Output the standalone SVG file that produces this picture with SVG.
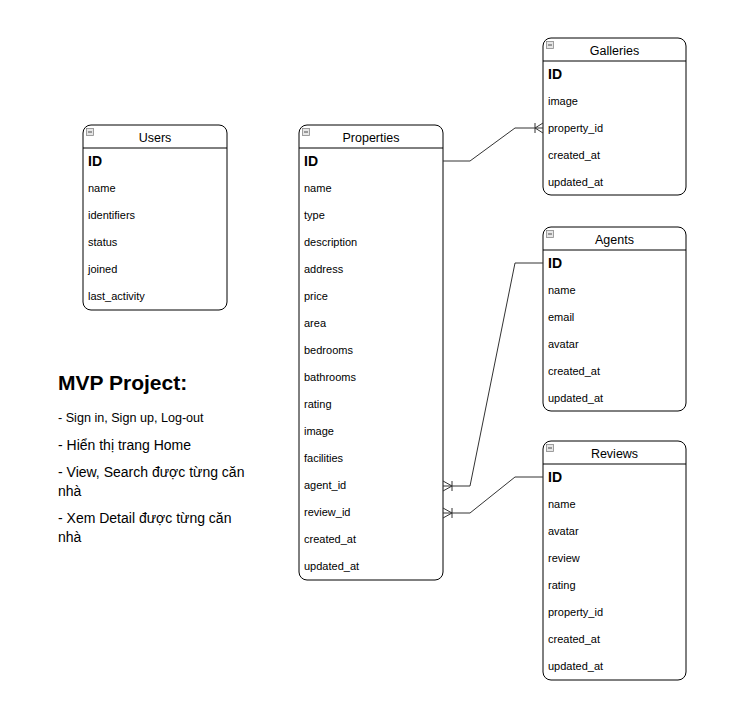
<svg xmlns="http://www.w3.org/2000/svg" width="729" height="705" viewBox="0 0 729 705">
<style>
.box{fill:#fff;stroke:#000;stroke-width:1}
.sep{stroke:#000;stroke-width:1}
.hd{font-family:"Liberation Sans",Arial,sans-serif;font-size:12.5px;fill:#000;text-anchor:middle}
.id{font-family:"Liberation Sans",Arial,sans-serif;font-size:14px;font-weight:bold;fill:#000}
.row{font-family:"Liberation Sans",Arial,sans-serif;font-size:11px;fill:#000}
.ico{fill:#e6e6e6;stroke:#888;stroke-width:0.8}
.icm{stroke:#666;stroke-width:1.2}
.con{fill:none;stroke:#333;stroke-width:1}
.note{font-family:"Liberation Sans",Arial,sans-serif;fill:#000}
</style>
<rect width="729" height="705" fill="#fff"/>
<defs>
<g id="icon"><rect class="ico" x="0" y="0" width="7" height="7"/><line class="icm" x1="1.5" y1="3.5" x2="5.5" y2="3.5"/></g>
</defs>

<g id="users">
<rect class="box" x="83" y="125" width="144" height="185" rx="8"/>
<line class="sep" x1="83" y1="148" x2="227" y2="148"/>
<use href="#icon" x="86.5" y="128.5"/>
<text class="hd" x="155" y="142">Users</text>
<text class="id" x="88" y="166">ID</text>
<text class="row" x="88" y="192">name</text>
<text class="row" x="88" y="219">identifiers</text>
<text class="row" x="88" y="246">status</text>
<text class="row" x="88" y="273">joined</text>
<text class="row" x="88" y="300">last_activity</text>
</g>

<g id="properties">
<rect class="box" x="299" y="125" width="144" height="455" rx="8"/>
<line class="sep" x1="299" y1="148" x2="443" y2="148"/>
<use href="#icon" x="302.5" y="128.5"/>
<text class="hd" x="371" y="142">Properties</text>
<text class="id" x="304" y="166">ID</text>
<text class="row" x="304" y="192">name</text>
<text class="row" x="304" y="219">type</text>
<text class="row" x="304" y="246">description</text>
<text class="row" x="304" y="273">address</text>
<text class="row" x="304" y="300">price</text>
<text class="row" x="304" y="327">area</text>
<text class="row" x="304" y="354">bedrooms</text>
<text class="row" x="304" y="381">bathrooms</text>
<text class="row" x="304" y="408">rating</text>
<text class="row" x="304" y="435">image</text>
<text class="row" x="304" y="462">facilities</text>
<text class="row" x="304" y="489">agent_id</text>
<text class="row" x="304" y="516">review_id</text>
<text class="row" x="304" y="543">created_at</text>
<text class="row" x="304" y="570">updated_at</text>
</g>

<g id="galleries">
<rect class="box" x="543" y="38" width="143" height="157" rx="8"/>
<line class="sep" x1="543" y1="61" x2="686" y2="61"/>
<use href="#icon" x="546.5" y="41.5"/>
<text class="hd" x="614.5" y="55">Galleries</text>
<text class="id" x="548" y="79">ID</text>
<text class="row" x="548" y="105">image</text>
<text class="row" x="548" y="132">property_id</text>
<text class="row" x="548" y="159">created_at</text>
<text class="row" x="548" y="186">updated_at</text>
</g>

<g id="agents">
<rect class="box" x="543" y="227" width="143" height="184" rx="8"/>
<line class="sep" x1="543" y1="250" x2="686" y2="250"/>
<use href="#icon" x="546.5" y="230.5"/>
<text class="hd" x="614.5" y="244">Agents</text>
<text class="id" x="548" y="268">ID</text>
<text class="row" x="548" y="294">name</text>
<text class="row" x="548" y="321">email</text>
<text class="row" x="548" y="348">avatar</text>
<text class="row" x="548" y="375">created_at</text>
<text class="row" x="548" y="402">updated_at</text>
</g>

<g id="reviews">
<rect class="box" x="543" y="441" width="143" height="239" rx="8"/>
<line class="sep" x1="543" y1="464" x2="686" y2="464"/>
<use href="#icon" x="546.5" y="444.5"/>
<text class="hd" x="614.5" y="458">Reviews</text>
<text class="id" x="548" y="482">ID</text>
<text class="row" x="548" y="508">name</text>
<text class="row" x="548" y="535">avatar</text>
<text class="row" x="548" y="562">review</text>
<text class="row" x="548" y="589">rating</text>
<text class="row" x="548" y="616">property_id</text>
<text class="row" x="548" y="643">created_at</text>
<text class="row" x="548" y="670">updated_at</text>
</g>

<g id="connectors">
<polyline class="con" points="443,161 470,161 515,128 543,128"/>
<path class="con" d="M535,123 V133 M535,128 L543,123 M535,128 L543,133"/>
<polyline class="con" points="543,263 515,263 470,486 443,486"/>
<path class="con" d="M452,481 V491 M452,486 L443,481 M452,486 L443,491"/>
<polyline class="con" points="543,477 515,477 470,513 443,513"/>
<path class="con" d="M452,508 V518 M452,513 L443,508 M452,513 L443,518"/>
</g>

<g id="notes">
<text class="note" x="58" y="390" font-size="21" font-weight="bold">MVP Project:</text>
<text class="note" x="58" y="422" font-size="12.6">- Sign in, Sign up, Log-out</text>
<text class="note" x="58" y="450" font-size="14">- Hiển thị trang Home</text>
<text class="note" x="58" y="477" font-size="14">- View, Search được từng căn</text>
<text class="note" x="58" y="496" font-size="14">nhà</text>
<text class="note" x="58" y="523" font-size="14">- Xem Detail được từng căn</text>
<text class="note" x="58" y="542" font-size="14">nhà</text>
</g>
</svg>
